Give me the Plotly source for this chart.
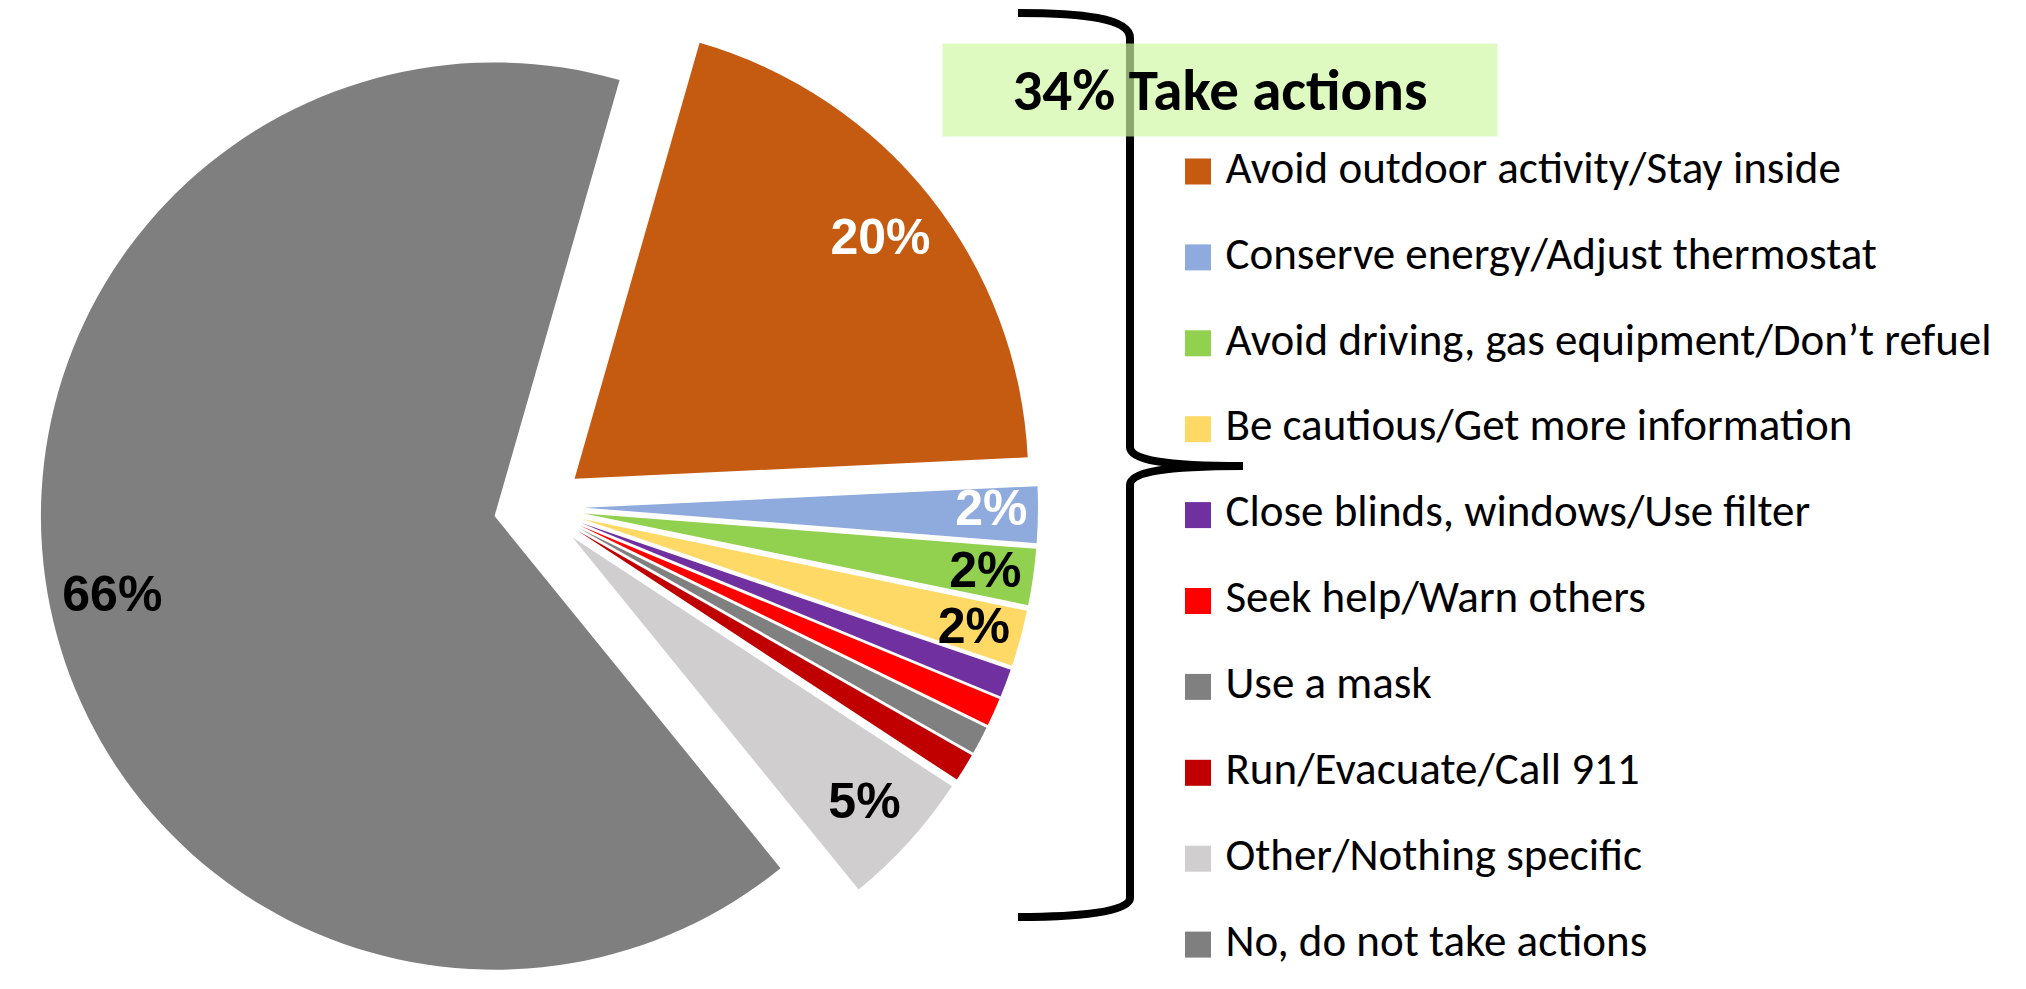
import plotly.graph_objects as go

W, H = 2026, 998
OFF = 8  # page body margin: the plot div starts 8px in from the window corner

labels = [
    "Avoid outdoor activity/Stay inside",
    "Conserve energy/Adjust thermostat",
    "Avoid driving, gas equipment/Don\u2019t refuel",
    "Be cautious/Get more information",
    "Close blinds, windows/Use filter",
    "Seek help/Warn others",
    "Use a mask",
    "Run/Evacuate/Call 911",
    "Other/Nothing specific",
    "No, do not take actions",
]
shares = [19.8, 2.0, 2.0, 2.0, 1.0, 1.0, 1.0, 1.0, 4.9, 65.3]
slice_text = ["20%", "2%", "2%", "2%", "", "", "", "", "5%", "66%"]
colors = ["#C55A11", "#8FAADC", "#92D050", "#FFD966", "#7030A0",
          "#FF0000", "#808080", "#C00000", "#D0CECE", "#7F7F7F"]
text_colors = ["white", "white", "black", "black", "black",
               "black", "black", "black", "black", "black"]
group_label = "34% Take actions"

# pie placement
PULL = 0.1
CX = 539 - OFF
dom_x = [(CX - H / 2) / W, (CX + H / 2) / W]

# transparent copies of the pie only carry the % labels. a wide hole keeps
# plotly's inside text near the rim, like excel's "inside end" labels.
thin = [v < 3 for v in shares]
mid_text = ["" if t else s for s, t in zip(slice_text, thin)]
rim_text = [s if t else "" for s, t in zip(slice_text, thin)]
K = 0.95           # rim copy is a little smaller so thin-slice labels sit inside
HOLE_MID = 0.72
HOLE_RIM = 0.843
frac = (K + PULL) / (1 + PULL)
dom_y_rim = [(1 - frac) / 2, 1 - (1 - frac) / 2]

# legend column (window px)
LEG_X = 1198 - OFF
LEG_Y0 = 171.5 - OFF
LEG_STEP = 85.9

fig = go.Figure()

fig.add_trace(go.Pie(
    labels=labels, values=shares, sort=False, direction="clockwise", rotation=16,
    pull=PULL, domain=dict(x=dom_x, y=[0, 1]),
    marker=dict(colors=colors, line=dict(width=0)),
    textinfo="none", hoverinfo="label+percent", showlegend=False,
))

for txt, pull, hole, dom_y in [(mid_text, PULL, HOLE_MID, [0, 1]),
                               (rim_text, PULL / K, HOLE_RIM, dom_y_rim)]:
    fig.add_trace(go.Pie(
        labels=labels, values=shares, sort=False, direction="clockwise", rotation=16,
        pull=pull, hole=hole, domain=dict(x=dom_x, y=dom_y),
        marker=dict(colors=["rgba(0,0,0,0)"] * len(labels), line=dict(width=0)),
        text=txt, textinfo="text", textposition="inside",
        insidetextorientation="horizontal",
        textfont=dict(family="Arial", size=50, color=text_colors, weight="bold"),
        hoverinfo="skip", showlegend=False,
    ))

# legend drawn as a column of square markers with labels
fig.add_trace(go.Scatter(
    x=[0] * len(labels), y=list(range(len(labels))),
    mode="markers+text",
    marker=dict(symbol="square", size=26, color=colors, line=dict(width=0)),
    text=["\u00a0" + l for l in labels], textposition="middle right",
    textfont=dict(family="Calibri, Lato, sans-serif", size=45, color="black"),
    hoverinfo="skip", showlegend=False, cliponaxis=False,
))


def p(x, y):
    return f"{(x - OFF) / W:.5f},{1 - (y - OFF) / H:.5f}"


brace = (
    "M" + p(1018, 13) + " C" + p(1080, 13) + " " + p(1130, 18) + " " + p(1130, 38)
    + " L" + p(1130, 447)
    + " C" + p(1130, 460) + " " + p(1165, 466) + " " + p(1243, 466)
    + " C" + p(1165, 466) + " " + p(1130, 472) + " " + p(1130, 485)
    + " L" + p(1130, 898)
    + " C" + p(1130, 912) + " " + p(1080, 917) + " " + p(1018, 917)
)
fig.add_shape(type="path", path=brace, xref="paper", yref="paper",
              line=dict(color="black", width=8), fillcolor="rgba(0,0,0,0)")

fig.add_annotation(
    x=(1220 - OFF) / W, y=1 - (90 - OFF) / H, xref="paper", yref="paper",
    text="<b>" + group_label + "</b>", showarrow=False,
    font=dict(family="Calibri, Lato, sans-serif", size=59, color="black"),
    bgcolor="rgba(206,247,162,0.68)", width=554, height=92, borderpad=0,
    xanchor="center", yanchor="middle",
)

fig.update_layout(
    width=W, height=H,
    margin=dict(l=0, r=0, t=0, b=0),
    paper_bgcolor="white", plot_bgcolor="white",
    showlegend=False,
    uniformtext=dict(minsize=50, mode="show"),
    xaxis=dict(range=[-LEG_X, W - LEG_X], domain=[0, 1], visible=False, fixedrange=True),
    yaxis=dict(range=[(H - LEG_Y0) / LEG_STEP, -LEG_Y0 / LEG_STEP], domain=[0, 1],
               visible=False, fixedrange=True),
)

fig.write_html("out.html")
